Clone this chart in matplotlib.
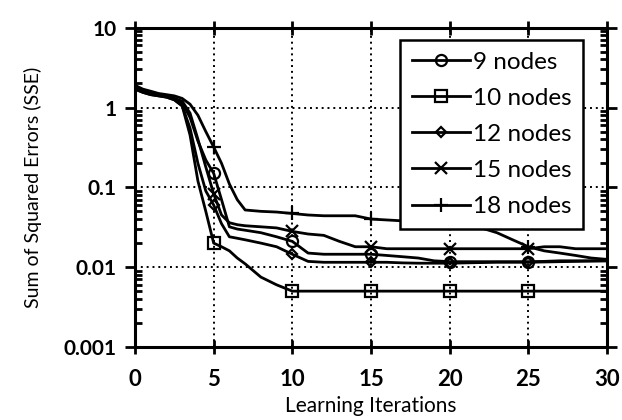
import numpy as np
import matplotlib
matplotlib.use("Agg")
from matplotlib import pyplot as plt
from matplotlib.ticker import FixedLocator, FixedFormatter, LogLocator, NullFormatter

plt.rcParams['font.family'] = ['Lato', 'DejaVu Sans']

# learning iterations (x) and SSE
iters = [0, 0.5, 1, 1.5, 2, 2.5, 3, 3.5, 4, 4.5, 5, 5.5, 6, 6.5, 7, 8, 9, 10,
         11, 12, 13, 14, 15, 16, 17, 18, 19, 20, 21, 22, 23, 24, 25, 26, 27, 28, 29, 30]

sse_9 = [1.75, 1.6, 1.5, 1.45, 1.4, 1.3, 1.15, 0.75, 0.38, 0.22, 0.15, 0.07, 0.032, 0.03, 0.029, 0.027, 0.024, 0.021,
         0.015, 0.0145, 0.0145, 0.0145, 0.0145, 0.014, 0.0135, 0.013, 0.012, 0.0117, 0.0117, 0.0117, 0.0117, 0.0117,
         0.0117, 0.0118, 0.012, 0.012, 0.012, 0.012]
sse_10 = [1.7, 1.55, 1.45, 1.4, 1.35, 1.25, 1.05, 0.45, 0.12, 0.05, 0.02, 0.018, 0.016, 0.013, 0.011, 0.0075, 0.006, 0.005,
          0.005, 0.005, 0.005, 0.005, 0.005, 0.005, 0.005, 0.005, 0.005, 0.005, 0.005, 0.005, 0.005, 0.005,
          0.005, 0.005, 0.005, 0.005, 0.005, 0.005]
sse_12 = [1.7, 1.55, 1.45, 1.4, 1.35, 1.25, 1.05, 0.55, 0.2, 0.09, 0.06, 0.035, 0.024, 0.023, 0.022, 0.02, 0.018, 0.0145,
          0.0118, 0.0115, 0.0115, 0.0115, 0.0115, 0.0115, 0.0113, 0.0112, 0.0112, 0.0112, 0.0113, 0.0114, 0.0115, 0.0115,
          0.0115, 0.0116, 0.0117, 0.0118, 0.0119, 0.012]
sse_15 = [1.75, 1.6, 1.5, 1.45, 1.4, 1.3, 1.2, 0.85, 0.4, 0.18, 0.083, 0.045, 0.036, 0.034, 0.033, 0.032, 0.031, 0.028,
          0.026, 0.025, 0.021, 0.018, 0.018, 0.017, 0.017, 0.017, 0.017, 0.017, 0.017, 0.017, 0.017, 0.017,
          0.017, 0.018, 0.018, 0.017, 0.017, 0.017]
sse_18 = [1.9, 1.7, 1.6, 1.5, 1.45, 1.4, 1.3, 1.1, 0.8, 0.5, 0.32, 0.2, 0.11, 0.07, 0.052, 0.05, 0.049, 0.047,
          0.045, 0.044, 0.044, 0.044, 0.04, 0.039, 0.038, 0.037, 0.037, 0.036, 0.034, 0.031, 0.027, 0.022,
          0.018, 0.016, 0.015, 0.014, 0.013, 0.0125]

labels = ["9 nodes", "10 nodes", "12 nodes", "15 nodes", "18 nodes"]
marker_x = [5, 10, 15, 20, 25]

fig = plt.figure(figsize=(6.22, 4.2), dpi=100)
ax = fig.add_axes([0.217, 0.174, 0.759, 0.760])

marks = [idx for idx, v in enumerate(iters) if v in marker_x]
styles = [
    dict(marker="o", markersize=8, markerfacecolor="none"),
    dict(marker="s", markersize=8, markerfacecolor="none"),
    dict(marker="D", markersize=5, markerfacecolor="none"),
    dict(marker="x", markersize=8),
    dict(marker="+", markersize=10),
]
for ys, lab, st in zip([sse_9, sse_10, sse_12, sse_15, sse_18], labels, styles):
    ax.plot(iters, ys, color="black", linewidth=2.0, label=lab,
            markevery=marks, markeredgewidth=1.6, **st)

ax.set_yscale("log")
ax.set_xlim(0, 30)
ax.set_ylim(0.001, 10)

ax.xaxis.set_major_locator(FixedLocator([0, 5, 10, 15, 20, 25, 30]))
ax.xaxis.set_major_formatter(FixedFormatter(["0", "5", "10", "15", "20", "25", "30"]))
ax.yaxis.set_major_locator(FixedLocator([0.001, 0.01, 0.1, 1, 10]))
ax.yaxis.set_major_formatter(FixedFormatter(["0.001", "0.01", "0.1", "1", "10"]))
ax.yaxis.set_minor_locator(LogLocator(base=10, subs=np.arange(2, 10)))
ax.yaxis.set_minor_formatter(NullFormatter())

ax.grid(True, which="major", color="black", linestyle=(0, (1, 2)), linewidth=1.4)
ax.tick_params(axis="x", which="major", direction="inout", length=10, width=2,
               top=True, labelsize=16, pad=11)
ax.tick_params(axis="y", which="major", direction="out", length=7, width=2,
               right=True, labelsize=15, pad=6)
ax.tick_params(axis="y", which="minor", direction="in", length=5, width=2, right=True)
for lbl in ax.get_xticklabels() + ax.get_yticklabels():
    lbl.set_fontweight("bold")
for sp in ax.spines.values():
    sp.set_linewidth(2.2)

ax.set_xlabel("Learning Iterations", fontsize=15, labelpad=4)
ax.set_ylabel("Sum of Squared Errors (SSE)", fontsize=14, labelpad=16)

leg = ax.legend(loc="upper right", bbox_to_anchor=(0.95, 0.963), borderaxespad=0,
                fontsize=17.5, handlelength=2.4, labelspacing=0.62, handletextpad=0.1,
                fancybox=False, framealpha=1, edgecolor="black", borderpad=0.5)
leg.get_frame().set_linewidth(1.8)

fig.savefig("out.png", dpi=100)
